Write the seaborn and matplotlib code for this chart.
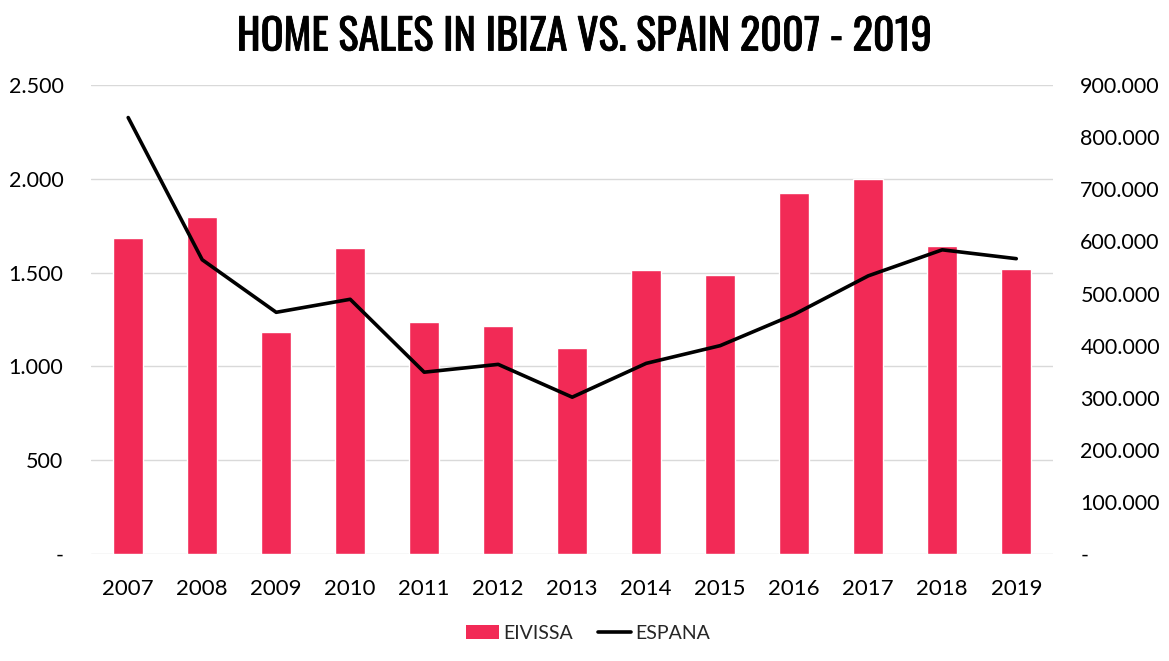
import matplotlib
matplotlib.use("Agg")
import matplotlib.pyplot as plt
import matplotlib.ticker as mticker
import matplotlib.patheffects as pe
from matplotlib.patches import Patch
from matplotlib.lines import Line2D
from matplotlib import font_manager
import seaborn as sns
import pandas as pd
import numpy as np

years = ["2007", "2008", "2009", "2010", "2011", "2012", "2013",
         "2014", "2015", "2016", "2017", "2018", "2019"]
eivissa = [1686, 1798, 1185, 1633, 1238, 1217, 1099,
           1515, 1489, 1926, 2001, 1644, 1521]
espana = [838000, 565000, 464000, 489000, 349000, 364000, 301000,
          366000, 400000, 460000, 534000, 584000, 567000]

bar_color = "#F22A56"

sns.set_theme(style="white")
plt.rcParams["font.family"] = ["Lato", "DejaVu Sans"]

# pick a narrow face for the title if one is around
installed = {f.name for f in font_manager.fontManager.ttflist}
title_family = "DejaVu Sans"
for name in ["Oswald", "Roboto Condensed", "Liberation Sans Narrow",
             "DejaVu Sans Condensed", "Open Sans Condensed"]:
    if name in installed:
        title_family = name
        break

df = pd.DataFrame({"Year": years, "EIVISSA": eivissa, "ESPANA": espana})
df["pos"] = np.arange(len(df))

fig = plt.figure(figsize=(11.69, 6.61), dpi=100)
ax = fig.add_axes([0.078, 0.162, 0.823, 0.709])

sns.barplot(data=df, x="Year", y="EIVISSA", color=bar_color, width=0.4,
            saturation=1, ax=ax, zorder=2)
ax.set_xlim(-0.5, len(years) - 0.5)
ax.set_ylim(0, 2500)
ax.yaxis.set_major_locator(mticker.MultipleLocator(500))


def dot_fmt(v, _):
    if v == 0:
        return "-"
    return f"{int(v):,}".replace(",", ".")


ax.yaxis.set_major_formatter(mticker.FuncFormatter(dot_fmt))
ax.grid(axis="y", color="#d9d9d9", linewidth=1, zorder=0)
ax.set_axisbelow(True)
ax.set_xlabel("")
ax.set_ylabel("")
for s in ax.spines.values():
    s.set_visible(False)
ax.tick_params(axis="both", length=0, labelsize=16, colors="black")
ax.tick_params(axis="y", labelsize=15.5, pad=20)
ax.tick_params(axis="x", pad=18)

ax2 = ax.twinx()
sns.lineplot(data=df, x="pos", y="ESPANA", color="black", linewidth=2.6,
             ax=ax2, zorder=3)
ax2.set_ylim(0, 900000)
ax2.yaxis.set_major_locator(mticker.MultipleLocator(100000))
ax2.yaxis.set_major_formatter(mticker.FuncFormatter(dot_fmt))
ax2.set_xlabel("")
ax2.set_ylabel("")
for s in ax2.spines.values():
    s.set_visible(False)
ax2.tick_params(axis="y", length=0, labelsize=15.5, colors="black", pad=19.5)
ax2.grid(False)
ax.set_xlim(-0.5, len(years) - 0.5)

fig.text(0.5, 0.944, "HOME SALES IN IBIZA VS. SPAIN 2007 - 2019",
         family=[title_family, "DejaVu Sans"], fontstretch="condensed",
         fontweight="bold", fontsize=30.5, color="black",
         ha="center", va="center",
         path_effects=[pe.withStroke(linewidth=0.6, foreground="black")])

handles = [Patch(facecolor=bar_color, edgecolor="none"),
           Line2D([0], [0], color="black", linewidth=2.6)]
fig.legend(handles, ["EIVISSA", "ESPANA"], loc="center",
           bbox_to_anchor=(0.503, 0.042), ncol=2, frameon=False,
           fontsize=14, handlelength=1.7, handletextpad=0.2,
           columnspacing=1.3)

fig.savefig("out.png", dpi=100)
